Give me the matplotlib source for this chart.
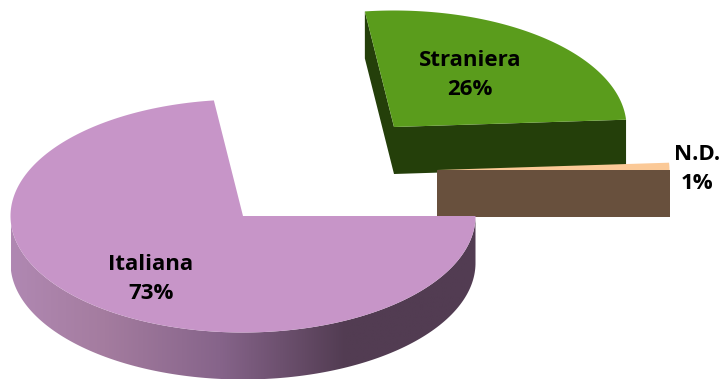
import numpy as np
import matplotlib
matplotlib.use("Agg")
from matplotlib import pyplot as plt
from matplotlib.colors import LinearSegmentedColormap
from matplotlib.patches import Polygon

names = ["Straniera", "N.D.", "Italiana"]
shares = [26, 1, 73]
top_colors = ["#5a9c1c", "#fbc997", "#c795c8"]
wall_colors = ["#243f0a", "#68503d", "#523c52"]

plt.rcParams['font.family'] = ['Open Sans', 'DejaVu Sans']

# everything is laid out in image pixels
W, H = 724, 379
RX, RY = 232.5, 116.5
DEPTH = 47
centers = [(394, 127), (437, 170), (243, 216)]
label_pos = [(470, 75), (697, 169), (151, 279)]


def ell(c, a):
    a = np.radians(a)
    return np.column_stack([c[0] + RX*np.cos(a), c[1] - RY*np.sin(a)])


def sector(c, a0, a1):
    arc = ell(c, np.linspace(a0, a1, 200))
    return np.vstack([[c], arc])


def cutWall(c, a):
    p = ell(c, np.array([a]))[0]
    return [c, tuple(p), (p[0], p[1]+DEPTH), (c[0], c[1]+DEPTH)]


fig = plt.figure(figsize=(W/100, H/100), dpi=100)
ax = fig.add_axes([0, 0, 1, 1])

# slices go clockwise from east: Italiana, Straniera, N.D.
it_start = 360 - shares[2]*3.6
st_end = it_start
st_start = st_end - shares[0]*3.6
nd_end = st_start
nd_start = nd_end - shares[1]*3.6

# Straniera
c = centers[0]
ax.add_patch(Polygon(cutWall(c, st_end), fc=wall_colors[0], ec='none'))
ax.add_patch(Polygon(cutWall(c, st_start), fc=wall_colors[0], ec='none'))
ax.add_patch(Polygon(sector(c, st_start, st_end), fc=top_colors[0], ec='none'))

# N.D.
c = centers[1]
ax.add_patch(Polygon(cutWall(c, nd_start), fc=wall_colors[1], ec='none'))
ax.add_patch(Polygon(sector(c, nd_start, nd_end), fc=top_colors[1], ec='none'))

# Italiana, the rim has a left to right shade
c = centers[2]
front = ell(c, np.linspace(180, 360, 200))
rim = np.vstack([front, (front + [0, DEPTH])[::-1]])
shade = LinearSegmentedColormap.from_list("rim", [(0, "#b088b2"), (0.2, "#a47c9f"),
                                                  (0.45, "#86648a"), (0.72, "#523c52"), (1, "#523c52")])
grad = np.linspace(0, 1, 256).reshape(1, -1)
im = ax.imshow(grad, cmap=shade, aspect='auto', zorder=2,
               extent=(c[0]-RX, c[0]+RX, c[1]+RY+DEPTH, c[1]))
clip = Polygon(rim, fc='none', ec='none', transform=ax.transData)
ax.add_patch(clip)
im.set_clip_path(clip)
ax.add_patch(Polygon(sector(c, it_start, 360), fc=top_colors[2], ec='none', zorder=3))

for n, s, p in zip(names, shares, label_pos):
    ax.text(p[0], p[1], "{}\n{}%".format(n, s), ha='center', va='center', fontsize=16,
            fontweight='bold', color='black', linespacing=1.45, zorder=5)

ax.set_xlim(0, W)
ax.set_ylim(H, 0)
ax.axis('off')
fig.savefig("out.png", dpi=100)
